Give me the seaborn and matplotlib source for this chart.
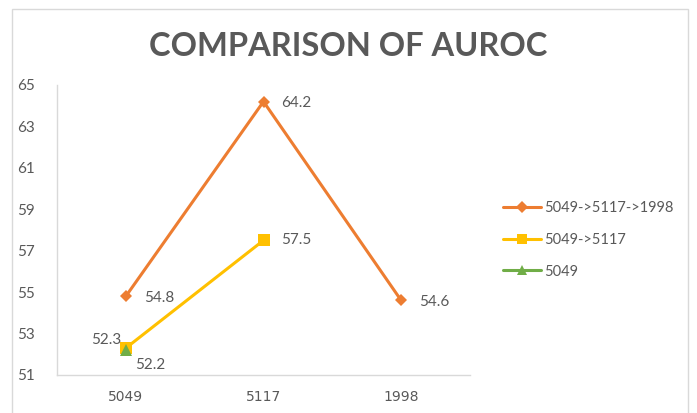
import pandas as pd
import matplotlib.pyplot as plt
import seaborn as sns
from matplotlib.patches import Rectangle

categories = ["5049", "5117", "1998"]
series_names = ["5049->5117->1998", "5049->5117", "5049"]
full_path = [54.8, 64.2, 54.6]
two_step = [52.3, 57.5]
single = [52.2]

colors = {"5049->5117->1998": "#ED7D31", "5049->5117": "#FFC000", "5049": "#70AD47"}
markers = {"5049->5117->1998": "D", "5049->5117": "s", "5049": "^"}

rows = []
for name, vals in zip(series_names, [full_path, two_step, single]):
    for i, v in enumerate(vals):
        rows.append({"series": name, "pos": i, "auroc": v})
df = pd.DataFrame(rows)

sns.set_theme(style="white")
plt.rcParams['font.family'] = ['Lato', 'DejaVu Sans']
gray = "#595959"

fig = plt.figure(figsize=(6.97, 4.13), dpi=100)
ax = fig.add_axes([57 / 697, 38 / 413, 413 / 697, 290 / 413])

sns.lineplot(data=df, x="pos", y="auroc", hue="series", style="series",
             hue_order=series_names, style_order=series_names,
             palette=colors, markers=markers, dashes=False,
             linewidth=2.2, markersize=8, markeredgewidth=0, ax=ax)
# diamonds a bit smaller
for ln in ax.lines:
    if ln.get_marker() == "D":
        ln.set_markersize(6.5)

ax.set_xlim(-0.5, 2.5)
ax.set_ylim(51, 65)
ax.set_yticks(range(51, 66, 2))
ax.set_xticks(range(len(categories)))
ax.set_xticklabels(categories)
ax.set_xlabel("")
ax.set_ylabel("")
ax.tick_params(axis="y", length=0, pad=16, labelsize=11, labelcolor=gray)
ax.tick_params(axis="x", length=0, pad=11, labelsize=10, labelcolor=gray)
for lab in ax.get_xticklabels():
    lab.set_fontfamily("DejaVu Sans")
for s in ["top", "right"]:
    ax.spines[s].set_visible(False)
for s in ["left", "bottom"]:
    ax.spines[s].set_color("#D9D9D9")
    ax.spines[s].set_linewidth(1)

# data labels
lab_kw = dict(fontsize=11, color=gray, textcoords="offset points")
for i, v in enumerate(full_path):
    ax.annotate(f"{v}", (i, v), xytext=(13, -1), ha="left", va="center", **lab_kw)
ax.annotate(f"{two_step[0]}", (0, two_step[0]), xytext=(-3, 6), ha="right", va="center", **lab_kw)
ax.annotate(f"{two_step[1]}", (1, two_step[1]), xytext=(13, 0), ha="left", va="center", **lab_kw)
ax.annotate(f"{single[0]}", (0, single[0]), xytext=(7, -11), ha="left", va="center", **lab_kw)

handles, labels = ax.get_legend_handles_labels()
for h in handles:
    if h.get_marker() == "D":
        h.set_markersize(6)
    else:
        h.set_markersize(7.5)
ax.legend(handles, labels, loc="center left", bbox_to_anchor=(490 / 697, 1 - 240 / 413),
          bbox_transform=fig.transFigure, frameon=False, fontsize=10.5,
          labelcolor=gray, handlelength=2.6, handletextpad=0.2, labelspacing=1.2)

fig.text(0.5, 1 - 46 / 413, "COMPARISON OF AUROC", ha="center", va="center",
         fontsize=23.5, fontweight="bold", color=gray)

fig.patches.append(Rectangle((12 / 697, -0.1), 676 / 697, 1.1 - 9 / 413,
                             transform=fig.transFigure, fill=False,
                             edgecolor="#D9D9D9", linewidth=1))

fig.savefig("out.png", dpi=100)
